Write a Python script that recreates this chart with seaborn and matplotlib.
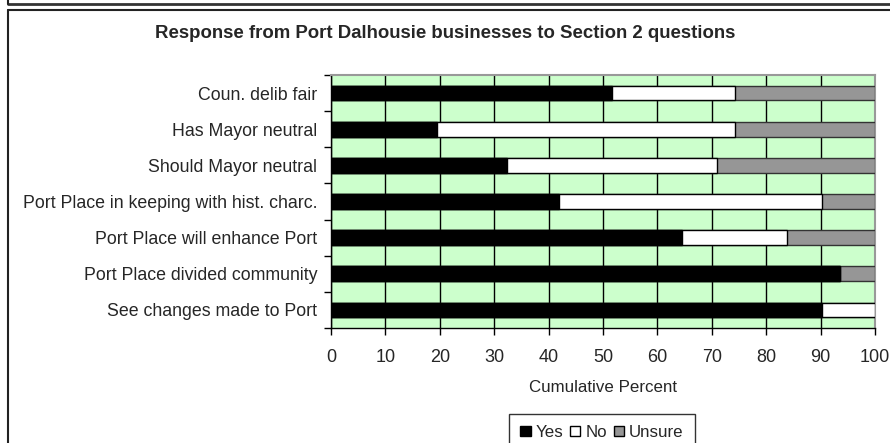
import matplotlib
matplotlib.use("Agg")
import matplotlib.pyplot as plt
import seaborn as sns
import pandas as pd
import numpy as np
from matplotlib.lines import Line2D
from matplotlib.patches import Patch

categories = [
    "Coun. delib fair",
    "Has Mayor neutral",
    "Should Mayor neutral",
    "Port Place in keeping with hist. charc.",
    "Port Place will enhance Port",
    "Port Place divided community",
    "See changes made to Port",
]
yes_pct = [51.6, 19.4, 32.3, 41.9, 64.5, 93.5, 90.3]
no_pct = [22.6, 54.8, 38.7, 48.4, 19.4, 0.0, 9.7]
unsure_pct = [25.8, 25.8, 29.0, 9.7, 16.1, 6.5, 0.0]
x_ticks = [0, 10, 20, 30, 40, 50, 60, 70, 80, 90, 100]

sns.set_theme(style="white")
plt.rcParams["font.family"] = ["Liberation Sans", "DejaVu Sans"]

W, H = 890, 443
fig = plt.figure(figsize=(W / 100, H / 100), dpi=100)
ax = fig.add_axes([331 / W, 1 - 328 / H, (875 - 331) / W, (328 - 75) / H])

df = pd.DataFrame({
    "cat": categories,
    "yes": yes_pct,
    "yes_no": np.array(yes_pct) + np.array(no_pct),
    "total": np.array(yes_pct) + np.array(no_pct) + np.array(unsure_pct),
})

bw = 0.41
sns.barplot(data=df, x="total", y="cat", orient="h", color="#969696",
            edgecolor="#333333", linewidth=1.0, width=bw, ax=ax, zorder=3,
            saturation=1)
sns.barplot(data=df, x="yes_no", y="cat", orient="h", color="white",
            edgecolor="black", linewidth=1.0, width=bw, ax=ax, zorder=4,
            saturation=1)
sns.barplot(data=df, x="yes", y="cat", orient="h", color="black",
            edgecolor="black", linewidth=1.0, width=bw, ax=ax, zorder=5,
            saturation=1)

ax.set_facecolor("#CCFFCC")
ax.set_xlim(0, 100)
ax.set_ylim(len(categories) - 0.5, -0.5)
ax.set_xticks(x_ticks)
ax.set_xticklabels([str(t) for t in x_ticks], fontsize=13)
ax.xaxis.grid(True, color="black", linewidth=1.0, zorder=1)
ax.set_axisbelow(True)
ax.yaxis.grid(False)

ax.set_yticks(range(len(categories)))
ax.set_yticklabels(categories, fontsize=12.8)
ax.tick_params(axis="y", length=0, pad=10)
ax.set_yticks(np.arange(-0.5, len(categories) + 0.5, 1), minor=True)
ax.tick_params(axis="y", which="minor", left=True, length=5, width=1, color="black")
ax.tick_params(axis="x", bottom=True, length=5, width=1, color="black", pad=10)

ax.set_xlabel("Cumulative Percent", fontsize=12.2, labelpad=10)
ax.set_ylabel("")

for side in ["left", "bottom"]:
    ax.spines[side].set_color("black")
    ax.spines[side].set_linewidth(1.0)
for side in ["top", "right"]:
    ax.spines[side].set_color("#999999")
    ax.spines[side].set_linewidth(1.5)
    ax.spines[side].set_visible(True)

fig.text(445 / W, 1 - 34 / H, "Response from Port Dalhousie businesses to Section 2 questions",
         ha="center", va="center", fontsize=13.4, fontweight="bold")

handles = [
    Patch(facecolor="black", edgecolor="black", label="Yes"),
    Patch(facecolor="white", edgecolor="black", label="No"),
    Patch(facecolor="#969696", edgecolor="black", label="Unsure"),
]
leg = fig.legend(handles=handles, loc="upper center", bbox_to_anchor=(602 / W, 1 - 414 / H),
                 ncol=3, frameon=True, fontsize=12.2, handlelength=0.6, handleheight=0.6,
                 handletextpad=0.3, columnspacing=0.4, borderpad=0.65, fancybox=False,
                 borderaxespad=0)
leg.get_frame().set_edgecolor("black")
leg.get_frame().set_linewidth(1.0)

# outer frames
def fline(x0, y0, x1, y1, lw=1.5, color="#222222"):
    fig.add_artist(Line2D([x0 / W, x1 / W], [1 - y0 / H, 1 - y1 / H],
                          transform=fig.transFigure, color=color, linewidth=lw))

fline(8, 3.5, W, 3.5, lw=2.0, color="#333333")
fline(8, 0, 8, 3.5, lw=1.5)
fline(8, 10, W, 10, lw=1.5)
fline(8, 10, 8, H, lw=1.5)

fig.savefig("out.png", dpi=100)
